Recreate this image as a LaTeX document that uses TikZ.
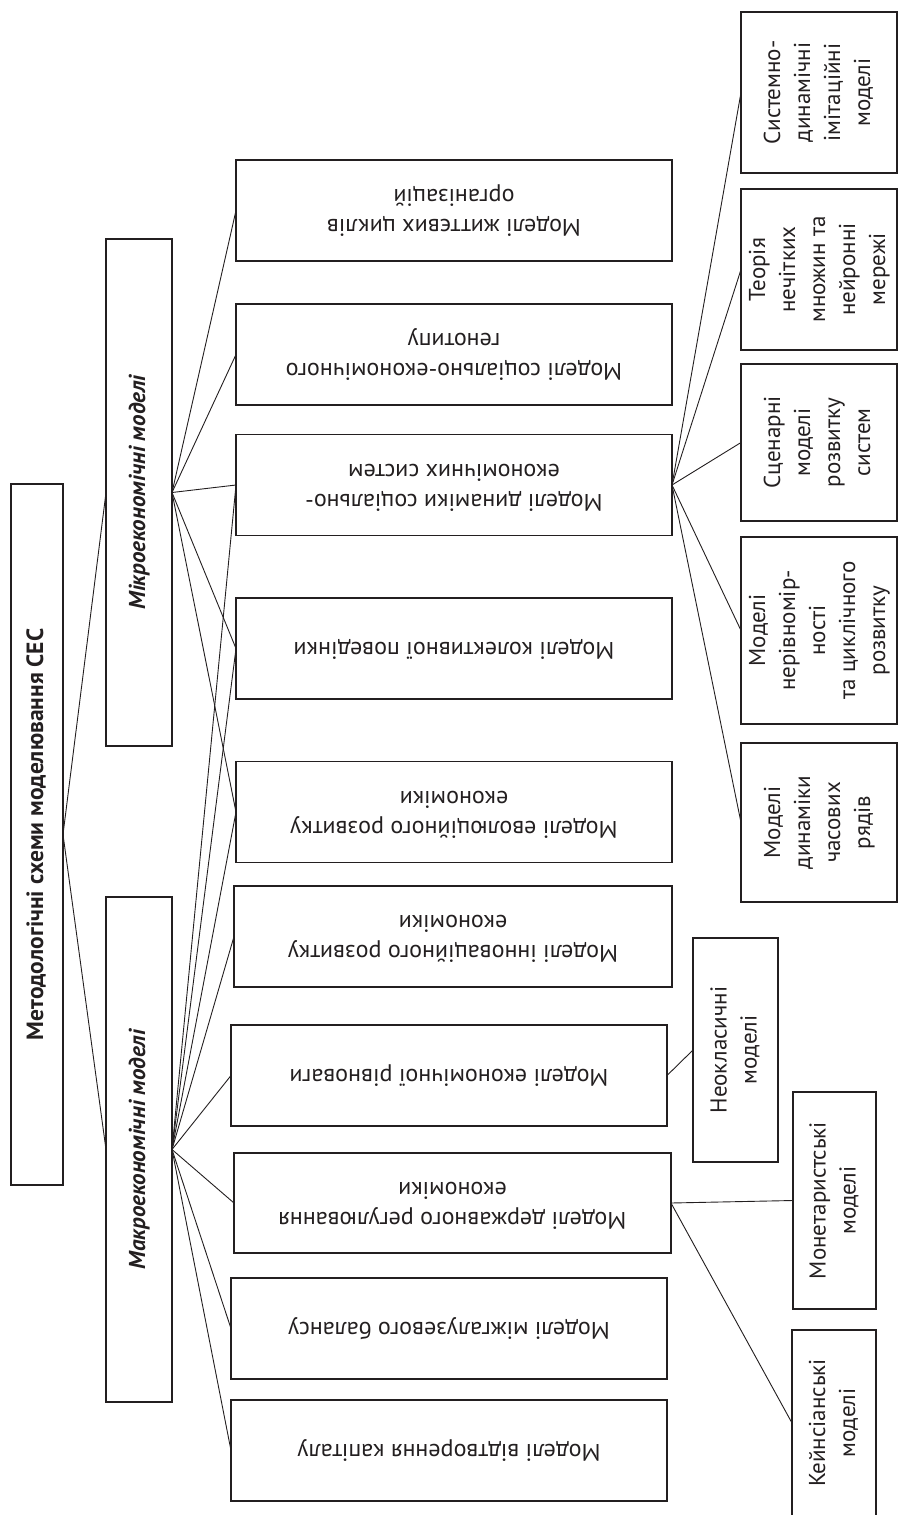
\documentclass[tikz,border=0pt]{standalone}
\usepackage{fontspec}
\setmainfont{PT Sans}
\usepackage{graphicx}
\definecolor{lc}{HTML}{231F20}
\newcommand\rottext[1]{\rotatebox{90}{\begin{tabular}{@{}c@{}}#1\end{tabular}}}
\newcommand\flptext[1]{\rotatebox{180}{\begin{tabular}{@{}c@{}}#1\end{tabular}}}
\begin{document}
\begin{tikzpicture}[x=1pt,y=-1pt,
  box/.style={draw=lc, line width=1.6pt, inner sep=0pt, outer sep=0pt, text=lc,
     font=\fontsize{23}{30}\selectfont},
  midbox/.style={box, minimum width=436pt, minimum height=101pt, font=\fontsize{24}{30}\selectfont},
  subbox/.style={box, minimum width=156pt},
  conn/.style={draw=lc, line width=0.9pt}]
\useasboundingbox (0,0) rectangle (899,1515);
\clip (0,0) rectangle (899,1515);
% title and level-1
\node[box, minimum width=52pt, minimum height=701pt, font=\fontsize{23.5}{30}\bfseries] (t) at (37,834.5) {\rottext{Методологічні схеми моделювання СЕС}};
\node[box, minimum width=66pt, minimum height=507pt, font=\fontsize{23}{30}\bfseries\itshape] (mi) at (139,492.5) {\rottext{Мікроекономічні моделі}};
\node[box, minimum width=66pt, minimum height=505pt, font=\fontsize{23}{30}\bfseries\itshape] (ma) at (139,1149.5) {\rottext{Макроекономічні моделі}};
% middle column
\node[midbox] (b1) at (454,210.5) {\flptext{Моделі життєвих циклів\\організацій}};
\node[midbox] (b2) at (454,354.5) {\flptext{Моделі соціально-економічного\\генотипу}};
\node[midbox] (b3) at (454,485) {\flptext{Моделі динаміки соціально-\\економічних систем}};
\node[midbox] (b4) at (454,648.5) {\flptext{Моделі колективної поведінки}};
\node[midbox] (b5) at (454,812) {\flptext{Моделі еволюційного розвитку\\економіки}};
\node[midbox, minimum width=438pt] (b6) at (453,936.5) {\flptext{Моделі інноваційного розвитку\\економіки}};
\node[midbox] (b7) at (449,1075.5) {\flptext{Моделі економічної рівноваги}};
\node[midbox, minimum width=437pt, minimum height=100pt] (b8) at (452.5,1203) {\flptext{Моделі державного регулювання\\економіки}};
\node[midbox] (b9) at (449,1328.5) {\flptext{Моделі міжгалузевого балансу}};
\node[midbox] (b10) at (449,1450.5) {\flptext{Моделі відтворення капіталу}};
% micro sub-boxes
\node[subbox, minimum height=161pt] (r1) at (819,92.5) {\rottext{Системно-\\динамічні\\імітаційні\\моделі}};
\node[subbox, minimum height=161pt] (r2) at (819,269.5) {\rottext{Теорія\\нечітких\\множин та\\нейронні\\мережі}};
\node[subbox, minimum height=157pt] (r3) at (819,442.5) {\rottext{Сценарні\\моделі\\розвитку\\систем}};
\node[subbox, minimum height=187pt] (r4) at (819,630.5) {\rottext{Моделі\\нерівномір-\\ності\\та циклічного\\розвитку}};
\node[subbox, minimum height=159pt] (r5) at (819,822.5) {\rottext{Моделі\\динаміки\\часових\\рядів}};
% macro sub-boxes
\node[box, minimum width=85pt, minimum height=224pt] (n) at (735.5,1050) {\rottext{Неокласичні\\моделі}};
\node[box, minimum width=83pt, minimum height=217pt] (mo) at (834.5,1200.5) {\rottext{Монетаристські\\моделі}};
\node[box, minimum width=84pt, minimum height=186pt] (k) at (834,1423) {\rottext{Кейнсіанські\\моделі}};
% connectors
\draw[conn] (t.east) -- (mi.west);
\draw[conn] (t.east) -- (ma.west);
\foreach \b in {b1,b2,b3,b4,b5} \draw[conn] (mi.east) -- (\b.west);
\foreach \b in {b3,b4,b5,b6,b7,b8,b9,b10} \draw[conn] (ma.east) -- (\b.west);
\foreach \r in {r1,r2,r3,r4,r5} \draw[conn] (b3.east) -- (\r.west);
\draw[conn] (b7.east) -- (n.west);
\draw[conn] (b8.east) -- (mo.west);
\draw[conn] (b8.east) -- (k.west);
\end{tikzpicture}
\end{document}
